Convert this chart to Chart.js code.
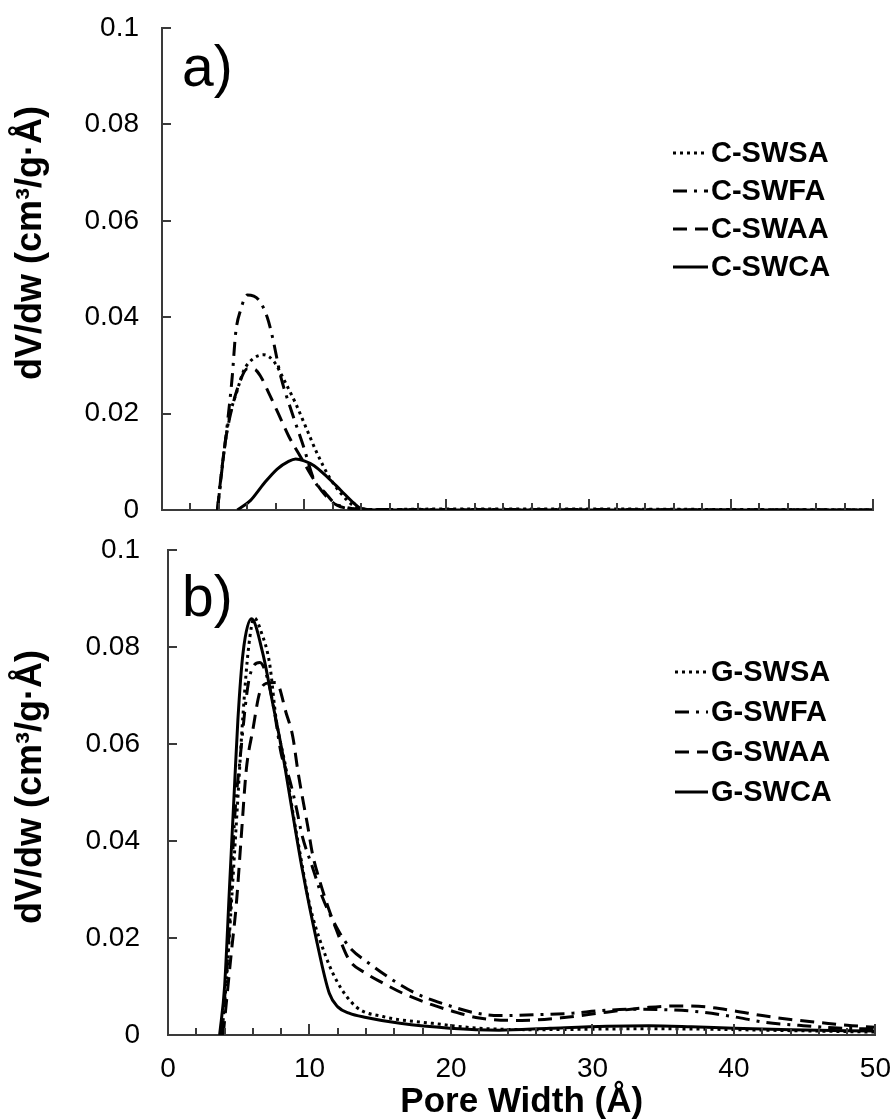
<!DOCTYPE html>
<html>
<head>
<meta charset="utf-8">
<script src="https://cdn.jsdelivr.net/npm/chart.js@4.4.0/dist/chart.umd.min.js"></script>
<style>
  body { margin: 0; background: #fff; }
  #wrap { position: relative; width: 891px; height: 1119px; }
  canvas { position: absolute; left: 0; }
</style>
</head>
<body>
<div id="wrap">
  <canvas id="topChart" width="891" height="530" style="top:0"></canvas>
  <canvas id="botChart" width="891" height="589" style="top:530px"></canvas>
</div>
<script>
// ---- panel a) carbons ----
const cSwsaX = [3.9, 4.35, 4.7, 5.3, 5.76, 6.46, 7.17, 7.87, 8.7, 9.4, 10.1, 10.9, 11.75, 12.57, 13.6, 15, 20, 30, 40, 50];
const cSwsaY = [0, 0.0118, 0.0187, 0.0249, 0.029, 0.0315, 0.0322, 0.0308, 0.0263, 0.0221, 0.0173, 0.0118, 0.0069, 0.0035, 0.0007, 0.0001, 0.0002, 0.0002, 0.0001, 0];
const cSwfaX = [3.9, 4.24, 4.6, 4.94, 5.18, 5.53, 6.0, 6.8, 7.4, 7.76, 8.35, 9.05, 9.97, 10.7, 11.5, 12.1, 13, 14, 20, 30, 40, 50];
const cSwfaY = [0, 0.009, 0.018, 0.0277, 0.0367, 0.0415, 0.0446, 0.0436, 0.040, 0.036, 0.0277, 0.021, 0.013, 0.0062, 0.0035, 0.0015, 0.0005, 0.0001, 0.0001, 0.0001, 0, 0];
const cSwaaX = [3.9, 4.12, 4.47, 4.94, 5.4, 6.0, 6.5, 6.94, 7.52, 8.23, 8.93, 9.75, 10.7, 11.5, 12.3, 13.5, 15, 20, 30, 40, 50];
const cSwaaY = [0, 0.0062, 0.0145, 0.0214, 0.026, 0.0293, 0.0292, 0.0277, 0.0242, 0.0197, 0.0152, 0.011, 0.0062, 0.003, 0.001, 0.0002, 0, 0, 0, 0, 0];
const cSwcaX = [5.3, 6.23, 7.17, 8.1, 8.9, 9.4, 10.0, 10.7, 11.6, 12.57, 13.5, 14, 15, 20, 30, 40, 50];
const cSwcaY = [0, 0.002, 0.0055, 0.0085, 0.0101, 0.0106, 0.0102, 0.0092, 0.0069, 0.0041, 0.0014, 0.0003, 0, 0, 0, 0, 0];

// ---- panel b) graphenes ----
const gSwsaX = [3.8, 4.1, 4.5, 4.9, 5.3, 5.7, 6.1, 6.6, 7.18, 7.65, 8.36, 8.82, 9.3, 10.0, 10.9, 11.9, 13.3, 15.2, 18.7, 22, 26, 30, 34, 38, 42, 46, 50];
const gSwsaY = [0, 0.01, 0.028, 0.047, 0.066, 0.080, 0.086, 0.083, 0.0766, 0.065, 0.0546, 0.046, 0.038, 0.027, 0.0182, 0.0113, 0.0058, 0.0038, 0.0024, 0.0014, 0.0011, 0.0012, 0.0013, 0.0012, 0.001, 0.0008, 0.0006];
const gSwfaX = [3.8, 4.3, 4.7, 5.06, 5.77, 6.5, 7.06, 7.5, 8.0, 8.6, 9.06, 9.5, 10.2, 10.9, 11.9, 12.8, 14.2, 15.9, 17.5, 19.4, 21.8, 23.4, 26.2, 28.6, 30.5, 32.8, 35.2, 37.5, 39.9, 42.2, 44.6, 47, 50];
const gSwfaY = [0, 0.02, 0.0443, 0.056, 0.0739, 0.0768, 0.0732, 0.067, 0.058, 0.0526, 0.047, 0.0409, 0.0347, 0.0285, 0.0223, 0.0182, 0.0148, 0.0113, 0.0086, 0.0065, 0.0045, 0.004, 0.0042, 0.0045, 0.005, 0.0053, 0.0052, 0.0048, 0.0038, 0.0026, 0.002, 0.0015, 0.0012];
const gSwaaX = [3.9, 4.0, 4.47, 4.83, 5.18, 5.53, 6.0, 6.47, 6.94, 7.65, 8.36, 8.82, 9.17, 9.5, 9.88, 10.2, 10.7, 11.3, 11.9, 12.8, 14, 15.2, 16.6, 18.7, 20, 22, 25, 28, 31, 34, 36, 38, 40, 42, 44, 46, 48, 50];
const gSwaaY = [0, 0.003, 0.0168, 0.027, 0.041, 0.0546, 0.063, 0.0705, 0.0725, 0.0727, 0.0663, 0.0615, 0.0546, 0.049, 0.043, 0.0375, 0.032, 0.0265, 0.0217, 0.0155, 0.0127, 0.0107, 0.0086, 0.0062, 0.005, 0.0035, 0.003, 0.0036, 0.0047, 0.0057, 0.006, 0.0058, 0.005, 0.004, 0.0032, 0.0026, 0.002, 0.0016];
const gSwcaX = [3.65, 4.0, 4.35, 4.7, 4.94, 5.3, 5.9, 6.7, 7.4, 8.1, 8.82, 9.5, 10.5, 11.4, 12.0, 12.8, 14, 16.4, 19.9, 23.4, 27, 31, 34, 37, 40, 44, 50];
const gSwcaY = [0, 0.01, 0.0306, 0.0512, 0.065, 0.0787, 0.0858, 0.0787, 0.0684, 0.058, 0.0455, 0.034, 0.0195, 0.0086, 0.0058, 0.0045, 0.0036, 0.0024, 0.0014, 0.001, 0.0014, 0.0018, 0.0019, 0.0017, 0.0014, 0.0011, 0.0008];

const topLabels = ['C-SWSA', 'C-SWFA', 'C-SWAA', 'C-SWCA'];
const botLabels = ['G-SWSA', 'G-SWFA', 'G-SWAA', 'G-SWCA'];
const dashes = [[3, 4], [14, 7, 3, 7], [14, 8], []];

const FONT = "'Liberation Sans', Arial, sans-serif";
const AXIS = '#3a3a3a';
const NONE = 'rgba(0,0,0,0)';

function pts(xs, ys) {
    return xs.map((x, i) => ({ x: x, y: ys[i] }));
}

function makeSets(labels, xs, ys) {
    return labels.map((lab, i) => ({
        label: lab,
        data: pts(xs[i], ys[i]),
        borderColor: '#000',
        borderWidth: 3,
        borderDash: dashes[i],
        pointRadius: 0,
        tension: 0.4,
        cubicInterpolationMode: 'monotone',
        fill: false
    }));
}

// inside tick marks, legend, panel letter, y title
const decor = {
    id: 'decor',
    afterDraw(chart, args, o) {
        const ctx = chart.ctx;
        const xs = chart.scales.x, ys = chart.scales.y;
        const a = chart.chartArea;
        ctx.save();
        ctx.strokeStyle = AXIS;
        ctx.lineWidth = 2;
        ctx.setLineDash([]);
        xs.ticks.forEach(t => {
            const px = Math.round(xs.getPixelForValue(t.value));
            const len = Math.abs(t.value % 10) < 1e-6 ? 11 : 7;
            ctx.beginPath();
            ctx.moveTo(px, a.bottom);
            ctx.lineTo(px, a.bottom - len);
            ctx.stroke();
        });
        ys.ticks.forEach(t => {
            const py = Math.round(ys.getPixelForValue(t.value));
            ctx.beginPath();
            ctx.moveTo(a.left, py);
            ctx.lineTo(a.left + 9, py);
            ctx.stroke();
        });

        // legend
        chart.data.datasets.forEach((ds, i) => {
            const y = o.legY + i * o.legGap;
            ctx.strokeStyle = '#000';
            ctx.lineWidth = 3;
            ctx.setLineDash(ds.borderDash);
            ctx.beginPath();
            ctx.moveTo(o.legX0, y);
            ctx.lineTo(o.legX1, y);
            ctx.stroke();
            ctx.setLineDash([]);
            ctx.fillStyle = '#000';
            ctx.font = 'bold 29px ' + FONT;
            ctx.textAlign = 'left';
            ctx.textBaseline = 'middle';
            ctx.fillText(ds.label, o.legX1 + 3, y + 1);
        });

        // panel letter
        ctx.font = '57px ' + FONT;
        ctx.fillStyle = '#000';
        ctx.textBaseline = 'middle';
        ctx.fillText(o.panel, 182, o.panelY);

        // y title
        ctx.translate(31, o.titleY);
        ctx.rotate(-Math.PI / 2);
        ctx.textAlign = 'center';
        ctx.font = 'bold 36px ' + FONT;
        ctx.fillText('dV/dw (cm³/g·Å)', 0, 0);
        ctx.restore();
    }
};

function makeChart(id, sets, cfg) {
    return new Chart(document.getElementById(id), {
        type: 'line',
        data: { datasets: sets },
        plugins: [decor],
        options: {
            responsive: false,
            animation: false,
            layout: {
                padding: { top: cfg.padTop, right: cfg.padRight, left: 0, bottom: 0 }
            },
            plugins: {
                legend: { display: false },
                tooltip: { enabled: false },
                decor: cfg.decor
            },
            scales: {
                x: {
                    type: 'linear',
                    min: 0, max: 50,
                    afterFit: s => { s.height = cfg.xHeight; },
                    border: { color: AXIS, width: 2 },
                    // invisible tick marks only push the labels down
                    grid: { drawOnChartArea: false, drawTicks: true, tickLength: 17, tickColor: NONE },
                    ticks: {
                        display: cfg.xLabels,
                        stepSize: 2,
                        padding: 0,
                        autoSkip: false,
                        maxRotation: 0,
                        color: '#000',
                        font: { family: FONT, size: 28 },
                        callback: v => (v % 10 === 0 ? String(v) : '')
                    },
                    title: {
                        display: cfg.xLabels,
                        text: 'Pore Width (Å)',
                        color: '#000',
                        font: { family: FONT, size: 35, weight: 'bold' },
                        padding: { top: 0, bottom: -4 }
                    }
                },
                y: {
                    min: 0, max: 0.1,
                    afterFit: s => { s.width = cfg.yWidth; },
                    border: { color: AXIS, width: 2 },
                    grid: { drawOnChartArea: false, drawTicks: true, tickLength: cfg.yGap, tickColor: NONE },
                    ticks: {
                        stepSize: 0.02,
                        padding: 0,
                        color: '#000',
                        font: { family: FONT, size: 28 },
                        callback: v => String(+v.toFixed(2))
                    }
                }
            }
        }
    });
}

makeChart('topChart',
    makeSets(topLabels, [cSwsaX, cSwfaX, cSwaaX, cSwcaX], [cSwsaY, cSwfaY, cSwaaY, cSwcaY]),
    {
        padTop: 28, padRight: 18, xHeight: 20, yWidth: 162, yGap: 23, xLabels: false,
        decor: { legY: 153, legGap: 38, legX0: 673, legX1: 708, panel: 'a)', panelY: 70, titleY: 243 }
    });

makeChart('botChart',
    makeSets(botLabels, [gSwsaX, gSwfaX, gSwaaX, gSwcaX], [gSwsaY, gSwfaY, gSwaaY, gSwcaY]),
    {
        padTop: 20, padRight: 14, xHeight: 84, yWidth: 168, yGap: 28, xLabels: true,
        decor: { legY: 142, legGap: 40, legX0: 675, legX1: 708, panel: 'b)', panelY: 70, titleY: 257 }
    });
</script>
</body>
</html>
